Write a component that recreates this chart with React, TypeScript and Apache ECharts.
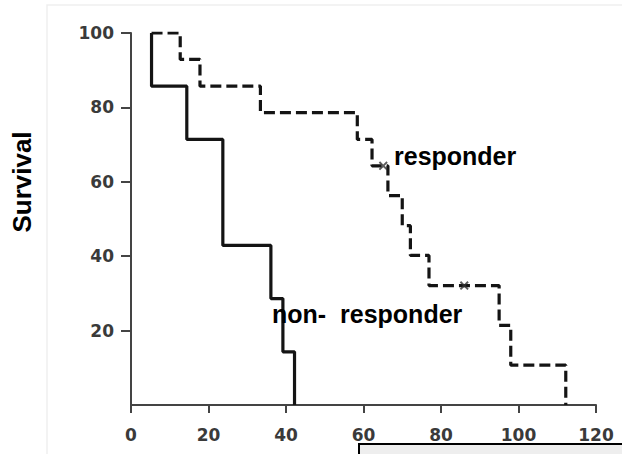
import React, { useEffect, useRef } from 'react';
import * as echarts from 'echarts';

const xTickValues = [0, 20, 40, 60, 80, 100, 120];
const yTickValues = [20, 40, 60, 80, 100];

const nonResponderTimes = [5.3, 5.3, 14.4, 23.7, 36.1, 39.2, 42.2];
const nonResponderSurvival = [100, 85.7, 71.4, 42.9, 28.6, 14.3, 0];

const responderTimes = [5.3, 12.7, 17.8, 33.4, 58.4, 62.2, 66.3, 70.0, 72.1, 76.9, 95.0, 98.0, 112.2];
const responderSurvival = [100, 92.9, 85.7, 78.6, 71.4, 64.3, 56.3, 48.2, 40.2, 32.1, 21.4, 10.7, 0];

const censorTimes = [65.1, 86.0];
const censorSurvival = [64.3, 32.1];

const yAxisTitle = 'Survival';
const responderLabel = 'responder';
const nonResponderLabel = 'non-  responder';

const crossPath = 'path://M0,1.5L1.5,0L5,3.5L8.5,0L10,1.5L6.5,5L10,8.5L8.5,10L5,6.5L1.5,10L0,8.5L3.5,5Z';

export default function App() {
  const ref = useRef<HTMLDivElement>(null);
  useEffect(() => {
    document.body.style.margin = '0';
    const chart = echarts.init(ref.current!, undefined, { renderer: 'svg' });
    const lineColor = '#141414';
    const axisColor = '#444';
    const tickFont = { fontFamily: 'DejaVu Sans', fontSize: 17, fontWeight: 'bold', color: '#3a3a3a' };
    chart.setOption({
      animation: false,
      backgroundColor: '#ffffff',
      grid: { left: 131, right: 26, top: 33, bottom: 49, containLabel: false },
      xAxis: {
        type: 'value',
        min: 0,
        max: 120,
        interval: 20,
        splitLine: { show: false },
        axisLine: { show: true, onZero: false, lineStyle: { color: axisColor, width: 2 } },
        axisTick: { show: true, inside: false, length: 8, lineStyle: { color: axisColor, width: 2 }, customValues: xTickValues },
        axisLabel: { ...tickFont, margin: 21, customValues: xTickValues },
      },
      yAxis: {
        type: 'value',
        min: 0,
        max: 100,
        interval: 20,
        splitLine: { show: false },
        axisLine: { show: true, onZero: false, lineStyle: { color: axisColor, width: 2 } },
        axisTick: { show: true, length: 10, lineStyle: { color: axisColor, width: 2 }, customValues: yTickValues },
        axisLabel: { ...tickFont, margin: 17, customValues: yTickValues },
      },
      series: [
        {
          name: 'non-responder',
          type: 'line',
          step: 'end',
          symbol: 'none',
          lineStyle: { color: lineColor, width: 3.2 },
          data: nonResponderTimes.map((t, i) => [t, nonResponderSurvival[i]]),
          z: 3,
        },
        {
          name: 'responder',
          type: 'line',
          step: 'end',
          symbol: 'none',
          lineStyle: { color: lineColor, width: 3.2, type: [11, 5] },
          data: responderTimes.map((t, i) => [t, responderSurvival[i]]),
          z: 2,
        },
        {
          name: 'censored',
          type: 'scatter',
          symbol: crossPath,
          symbolSize: 9,
          itemStyle: { color: '#333' },
          data: censorTimes.map((t, i) => [t, censorSurvival[i]]),
          z: 4,
        },
      ],
      graphic: [
        {
          type: 'rect',
          silent: true,
          shape: { x: 47, y: 5, width: 600, height: 470 },
          style: { fill: 'none', stroke: '#efefef', lineWidth: 1.5 },
          z: -1,
        },
        {
          type: 'text',
          x: 394,
          y: 156,
          style: {
            text: responderLabel,
            fontFamily: 'Liberation Sans',
            fontWeight: 'bold',
            fontSize: 25,
            fill: '#000',
            verticalAlign: 'middle',
          },
          z: 10,
        },
        {
          type: 'text',
          x: 272,
          y: 314,
          style: {
            text: nonResponderLabel,
            fontFamily: 'Liberation Sans',
            fontWeight: 'bold',
            fontSize: 25,
            fill: '#000',
            verticalAlign: 'middle',
          },
          z: 10,
        },
        {
          type: 'text',
          x: 22,
          y: 182,
          rotation: Math.PI / 2,
          style: {
            text: yAxisTitle,
            fontFamily: 'Liberation Sans',
            fontWeight: 'bold',
            fontSize: 26,
            fill: '#000',
            align: 'center',
            verticalAlign: 'middle',
          },
          z: 10,
        },
        {
          type: 'rect',
          silent: true,
          shape: { x: 359, y: 444, width: 300, height: 30 },
          style: { fill: '#eeeeee', stroke: '#000', lineWidth: 2 },
          z: 10,
        },
      ],
    });
    return () => chart.dispose();
  }, []);
  return <div ref={ref} style={{ width: 622, height: 454 }} />;
}
